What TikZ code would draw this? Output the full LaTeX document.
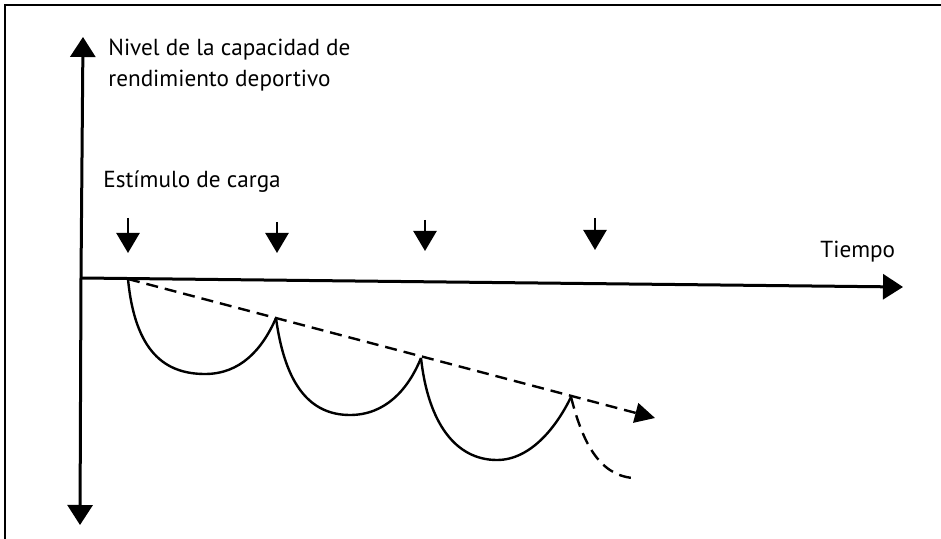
\documentclass[tikz,border=0pt]{standalone}
\usepackage{fontspec}
\setmainfont{PT Sans}
\usetikzlibrary{arrows.meta}
\definecolor{ink}{RGB}{0,0,0}
\tikzset{
  frame/.style={draw=ink, line width=1pt},
  axis/.style={draw=ink, line width=1.5pt, -{Triangle[length=10pt,width=12.5pt]}},
  stim/.style={draw=ink, line width=1.2pt, -{Triangle[length=10pt,width=11.5pt]}},
  curve/.style={draw=ink, line width=1.2pt},
  trend/.style={draw=ink, line width=1.2pt, dash pattern=on 6pt off 3.5pt, -{Triangle[length=10pt,width=10pt]}},
  tail/.style={draw=ink, line width=1.2pt, dash pattern=on 6pt off 3.5pt},
  label/.style={font=\fontsize{11.6}{15.5}\selectfont, text=ink, inner sep=0pt, align=left}
}
\begin{document}
\begin{tikzpicture}[x=0.5pt,y=-0.5pt]
  \useasboundingbox (0,0) rectangle (941,539);
  \draw[frame] (5,539) -- (5,5) -- (941,5);
  % axes
  \coordinate (O) at (81,278);
  \coordinate (ytop) at (83,37);
  \coordinate (ybot) at (80,525);
  \coordinate (xend) at (903,287);
  \draw[axis] (O) -- (ytop);
  \draw[axis] (O) -- (ybot);
  \draw[axis] (O) -- (xend);
  \node[label, anchor=base west] (ylab) at (108,87) {Nivel de la capacidad de\\rendimiento deportivo};
  \node[label, anchor=base west] (xlab) at (820,258) {Tiempo};
  \node[label, anchor=base west] (slab) at (103,188) {Estímulo de carga};
  % load stimuli
  \foreach \x/\t/\b [count=\i] in {128/218/253, 277/222/253, 425/220/251, 595/218/250} {
    \coordinate (s\i) at (\x,\t);
    \coordinate (e\i) at (\x,\b);
    \draw[stim] (s\i) -- (e\i);
  }
  % peaks and trend
  \coordinate (p0) at (128,279);
  \coordinate (p1) at (276,318);
  \coordinate (p2) at (421,358);
  \coordinate (p3) at (571,397);
  \coordinate (tr) at (655,418);
  \coordinate (te) at (633,478);
  \draw[trend] (p0) -- (tr);
  \draw[curve] (p0) .. controls (135,352) and (165,374) .. (205,374)
    .. controls (240,374) and (262,350) .. (p1);
  \draw[curve] (p1) .. controls (285,385) and (310,415) .. (350,415)
    .. controls (385,415) and (408,390) .. (p2);
  \draw[curve] (p2) .. controls (428,422) and (455,460) .. (497,460)
    .. controls (530,460) and (556,428) .. (p3);
  \draw[tail] (p3) .. controls (582,440) and (598,475) .. (te);
\end{tikzpicture}
\end{document}
